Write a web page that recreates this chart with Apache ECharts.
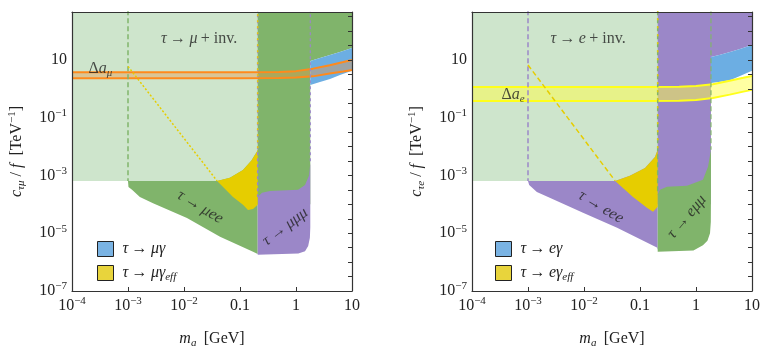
<!DOCTYPE html>
<html>
<head>
<meta charset="utf-8">
<script src="https://cdn.jsdelivr.net/npm/echarts@6/dist/echarts.min.js"></script>
<style>
html,body{margin:0;padding:0;background:#fff}
#chart{width:773px;height:349px}
</style>
</head>
<body>
<div id="chart"></div>
<script>
// 轴范围 (log10)
const xMinExp = -4, xMaxExp = 1
const yMinExp = -7, yMaxExp = 2.66
const yLabelExps = [-7, -5, -3, -1, 1]

// 左图 tau -> mu  (质量 GeV, 耦合 TeV^-1)
const muInv = [[1e-4, 1000], [1e-4, 6.5e-4], [0.039, 6.5e-4], [0.066, 8.3e-4], [0.113, 1.56e-3], [0.16, 3.3e-3], [0.2, 6.6e-3], [0.207, 8e-3], [0.207, 1000]]
const muEE = [[1e-3, 1000], [1e-3, 6.5e-4], [1.02e-3, 4e-4], [1.18e-3, 3.2e-4], [1.63e-3, 1.8e-4], [2.8e-3, 1.1e-4], [0.0113, 3.4e-5], [0.044, 7.5e-6], [0.171, 2.3e-6], [0.207, 1.9e-6], [0.207, 1e-4], [1.8, 1e-4], [1.8, 9.2], [2.68, 11.7], [4.05, 14.9], [6.1, 18.9], [10, 26], [10, 1000]]
const muMuMu = [[0.207, 1.8e-4], [0.247, 2.5e-4], [0.343, 2.9e-4], [1.09, 3.2e-4], [1.45, 4.7e-4], [1.71, 1.0e-3], [1.8, 2.7e-3], [1.8, 1.6e-5], [1.77, 7e-6], [1.65, 3.6e-6], [1.45, 2.4e-6], [1.1, 2e-6], [0.207, 1.8e-6]]
const muGamEff = [[0.039, 6.5e-4], [0.066, 8.3e-4], [0.113, 1.56e-3], [0.16, 3.3e-3], [0.2, 6.6e-3], [0.207, 8e-3], [0.207, 9.6e-5], [0.171, 6.9e-5], [0.139, 6.4e-5], [0.113, 9.6e-5], [0.075, 1.8e-4], [0.039, 6.5e-4]]
const muGamM = [1.8, 2.68, 4.05, 6.1, 10]
const muGamTop = [9.2, 11.7, 14.9, 18.9, 26]
const muGamBot = [1.36, 1.73, 2.2, 3.0, 4.2]
const bandM = [1e-4, 0.1, 0.5, 1, 2, 4, 7, 10]
const amuTop = [3.75, 3.75, 3.8, 4.1, 5.0, 6.6, 8.5, 10]
const amuBot = [2.33, 2.33, 2.36, 2.45, 2.7, 3.4, 4.0, 4.5]
const muDiag = [[1e-3, 6], [0.039, 6.5e-4]]

// 右图 tau -> e
const eInv = [[1e-4, 1000], [1e-4, 6.5e-4], [0.036, 6.5e-4], [0.066, 9.8e-4], [0.123, 1.8e-3], [0.185, 4.4e-3], [0.207, 7.8e-3], [0.207, 1000]]
const eEEE = [[1e-3, 1000], [1e-3, 6.5e-4], [1.05e-3, 4.7e-4], [1.44e-3, 2.7e-4], [2.5e-3, 1.67e-4], [9.6e-3, 5.1e-5], [0.039, 1.55e-5], [0.2, 3.2e-6], [0.207, 2.7e-6], [0.207, 1e-4], [1.85, 1e-4], [1.85, 12.7], [2.7, 15], [4.05, 19], [6.1, 24], [10, 33], [10, 1000]]
const eMuMu = [[0.207, 2.2e-4], [0.227, 3.2e-4], [0.303, 4.1e-4], [0.69, 4.4e-4], [1.33, 7.1e-4], [1.64, 2.0e-3], [1.85, 7.8e-3], [1.85, 1.8e-4], [1.84, 2.5e-5], [1.78, 1.0e-5], [1.6, 5.5e-6], [1.33, 3.8e-6], [0.9, 2.5e-6], [0.207, 2.3e-6]]
const eGamEff = [[0.036, 6.5e-4], [0.066, 9.8e-4], [0.123, 1.8e-3], [0.185, 4.4e-3], [0.207, 7.8e-3], [0.207, 8.2e-5], [0.171, 5.5e-5], [0.133, 7.6e-5], [0.075, 1.8e-4], [0.036, 6.5e-4]]
const eGamM = [1.85, 2.7, 4.05, 6.1, 10]
const eGamTop = [12.7, 15, 19, 24, 33]
const eGamBot = [1.6, 1.75, 2.0, 2.8, 4.2]
const aeTop = [1.16, 1.16, 1.18, 1.25, 1.45, 1.9, 2.4, 2.8]
const aeBot = [0.38, 0.38, 0.39, 0.41, 0.48, 0.63, 0.8, 0.92]
const eDiag = [[1e-3, 6.7], [0.036, 6.5e-4]]

// 文字标注 [质量, 耦合, 文本, 旋转]
const muNotes = [
  [0.0186, 53, '{i|τ} {r|→} {i|μ} {r|+ inv.}', 0],
  [0.0194, 8.1e-5, '{i|τ} {r|→} {i|μee}', -31],
  [0.64, 1.66e-5, '{i|τ} {r|→} {i|μμμ}', 37],
  [3.2e-4, 4.9, '{r|Δ}{i|a}{sub|μ}', 0]
]
const eNotes = [
  [0.0118, 53, '{i|τ} {r|→} {i|e} {r|+ inv.}', 0],
  [0.02, 8.1e-5, '{i|τ} {r|→} {i|eee}', -31],
  [0.69, 3.7e-5, '{i|τ} {r|→} {i|eμμ}', 50],
  [5.4e-4, 0.61, '{r|Δ}{i|a}{sub|e}', 0]
]

const F = 'Liberation Serif'
const TXT = '#222'
const LG = '#cee5cc', GR = '#80b46b', PU = '#9b87c8', YE = '#e6cd00', BL = '#6caee3'

const rich = {
  i: { fontStyle: 'italic', fontFamily: F, fontSize: 16, color: TXT, lineHeight: 20 },
  r: { fontFamily: F, fontSize: 16, color: TXT, lineHeight: 20 },
  sub: { fontStyle: 'italic', fontFamily: F, fontSize: 11, color: TXT, lineHeight: 11, verticalAlign: 'bottom' },
  sup: { fontFamily: F, fontSize: 11, color: TXT, lineHeight: 11, verticalAlign: 'top' }
}

const L = v => Math.log10(v)
const toLog = arr => arr.map(p => [L(p[0]), L(p[1])])
const band = (m, top, bot) => m.map((x, i) => [x, top[i]]).concat(m.map((x, i) => [x, bot[i]]).reverse())
const curve = (m, vals) => m.map((x, i) => [x, vals[i]])

function area(name, gi, data, color, z) {
  const d = toLog(data)
  return {
    type: 'custom', name: name, xAxisIndex: gi * 2, yAxisIndex: gi * 2,
    clip: true, silent: true, z: z,
    itemStyle: { color: color },
    data: [d[0]],
    renderItem: (params, api) => ({
      type: 'polygon',
      shape: { points: d.map(p => api.coord(p)) },
      style: { fill: color }
    })
  }
}

function line(gi, data, color, type, width, z) {
  return {
    type: 'line', xAxisIndex: gi * 2, yAxisIndex: gi * 2,
    data: toLog(data), symbol: 'none', silent: true, z: z,
    lineStyle: { color: color, type: type, width: width }
  }
}

function notes(gi, list) {
  return list.map(n => ({
    type: 'scatter', xAxisIndex: gi * 2, yAxisIndex: gi * 2, silent: true, z: 20,
    symbolSize: 1, itemStyle: { color: 'rgba(0,0,0,0)' },
    data: [[L(n[0]), L(n[1])]],
    label: { show: true, position: 'inside', rotate: n[3], formatter: n[2], rich: rich }
  }))
}

function xLabel(v) {
  const e = Math.round(v)
  if (Math.abs(v - e) > 1e-6) return ''
  if (e === -1) return '{r|0.1}'
  if (e === 0) return '{r|1}'
  if (e === 1) return '{r|10}'
  return '{r|10}{sup|−' + (-e) + '}'
}
function yLabel(v) {
  const e = Math.round(v)
  if (Math.abs(v - e) > 1e-6 || yLabelExps.indexOf(e) < 0) return ''
  if (e === 1) return '{r|10}'
  return '{r|10}{sup|−' + (-e) + '}'
}

const frame = { show: true, onZero: false, lineStyle: { color: '#333', width: 1.2 } }

function axes(gi, yName) {
  const xs = [
    {
      type: 'value', gridIndex: gi, min: xMinExp, max: xMaxExp, interval: 1, position: 'bottom', z: 10,
      axisLine: frame, axisTick: { inside: true, length: 4, lineStyle: { color: '#333' } },
      axisLabel: { formatter: xLabel, rich: rich, margin: 5 }, splitLine: { show: false },
      name: '{i|m}{sub|a} {r| [GeV]}', nameLocation: 'middle', nameGap: 38, nameTextStyle: { rich: rich }
    },
    {
      type: 'value', gridIndex: gi, min: xMinExp, max: xMaxExp, interval: 1, position: 'top', z: 10,
      axisLine: frame, axisTick: { show: false }, axisLabel: { show: false }, splitLine: { show: false }
    }
  ]
  const ys = [
    {
      type: 'value', gridIndex: gi, min: yMinExp, max: yMaxExp, interval: 1, position: 'left', z: 10,
      axisLine: frame, axisTick: { show: false },
      axisLabel: { formatter: yLabel, rich: rich, margin: 5 }, splitLine: { show: false },
      name: yName, nameLocation: 'middle', nameGap: 45, nameTextStyle: { rich: rich }
    },
    {
      type: 'value', gridIndex: gi, min: yMinExp, max: yMaxExp, interval: 0.5, position: 'right', z: 10,
      axisLine: frame, axisTick: { inside: true, length: 4, lineStyle: { color: '#333' } },
      axisLabel: { show: false }, splitLine: { show: false }
    }
  ]
  return { xs, ys }
}

const a0 = axes(0, '{i|c}{sub|τμ}{r| / }{i|f}{r|  [TeV}{sup|−1}{r|]}')
const a1 = axes(1, '{i|c}{sub|τe}{r| / }{i|f}{r|  [TeV}{sup|−1}{r|]}')

const legendCommon = {
  orient: 'vertical', itemWidth: 16, itemHeight: 15, itemGap: 8, icon: 'rect',
  selectedMode: false,
  itemStyle: { borderColor: '#222', borderWidth: 1 },
  textStyle: { rich: rich, padding: [0, 0, 0, 4] },
  formatter: name => name.replace(/^τ → (\S)γ(_eff)?$/, (s, l, eff) => '{i|τ} {r|→} {i|' + l + 'γ}' + (eff ? '{sub|eff}' : ''))
}

const series = [
  // 左图
  area('τ → μee', 0, muEE, GR, 1),
  area('τ → μμμ', 0, muMuMu, PU, 2),
  area('τ → μ inv', 0, muInv, LG, 3),
  area('τ → μγ_eff', 0, muGamEff, YE, 4),
  area('τ → μγ', 0, band(muGamM, muGamTop, muGamBot), BL, 5),
  area('amu', 0, band(bandM, amuTop, amuBot), 'rgba(235,150,70,0.4)', 6),
  line(0, curve(bandM, amuTop), '#ff8a1c', 'solid', 2, 7),
  line(0, curve(bandM, amuBot), '#ff8a1c', 'solid', 2, 7),
  line(0, [[1e-3, 1000], [1e-3, 6.5e-4]], GR, [5, 3], 1.5, 8),
  line(0, [[0.207, 1000], [0.207, 1.8e-4]], PU, [3, 3], 1.5, 8),
  line(0, [[0.207, 1000], [0.207, 8e-3]], YE, [2, 4], 1.5, 8),
  line(0, [[1.8, 1000], [1.8, 2.7e-3]], PU, [3, 3], 1.2, 8),
  line(0, muDiag, YE, [2, 2], 1.5, 8),
  // 右图
  area('τ → eee', 1, eEEE, PU, 1),
  area('τ → eμμ', 1, eMuMu, GR, 2),
  area('τ → e inv', 1, eInv, LG, 3),
  area('τ → eγ_eff', 1, eGamEff, YE, 4),
  area('τ → eγ', 1, band(eGamM, eGamTop, eGamBot), BL, 5),
  area('ae', 1, band(bandM, aeTop, aeBot), 'rgba(255,255,70,0.5)', 6),
  line(1, curve(bandM, aeTop), '#ffff1a', 'solid', 2, 7),
  line(1, curve(bandM, aeBot), '#ffff1a', 'solid', 2, 7),
  line(1, [[1e-3, 1000], [1e-3, 6.5e-4]], PU, [5, 3], 1.5, 8),
  line(1, [[0.207, 1000], [0.207, 2.2e-4]], GR, [5, 3], 1.5, 8),
  line(1, [[0.207, 1000], [0.207, 7.8e-3]], YE, [2, 6], 1.5, 8),
  line(1, [[1.85, 1000], [1.85, 7.8e-3]], GR, [5, 3], 1.2, 8),
  line(1, eDiag, YE, [5, 3], 1.5, 8)
].concat(notes(0, muNotes), notes(1, eNotes))

const mycharts = echarts.init(document.getElementById('chart'), null, { renderer: 'canvas' })
const option = {
  animation: false,
  backgroundColor: '#fff',
  grid: [
    { left: 72, top: 12, width: 280, height: 279, outerBoundsMode: 'none' },
    { left: 472, top: 12, width: 280, height: 279, outerBoundsMode: 'none' }
  ],
  xAxis: a0.xs.concat(a1.xs),
  yAxis: a0.ys.concat(a1.ys),
  legend: [
    Object.assign({}, legendCommon, {
      left: 92, top: 236,
      data: [{ name: 'τ → μγ', itemStyle: { color: '#7ab3e3' } }, { name: 'τ → μγ_eff', itemStyle: { color: '#e8d43c' } }]
    }),
    Object.assign({}, legendCommon, {
      left: 490, top: 236,
      data: [{ name: 'τ → eγ', itemStyle: { color: '#7ab3e3' } }, { name: 'τ → eγ_eff', itemStyle: { color: '#e8d43c' } }]
    })
  ],
  series: series
}
mycharts.setOption(option)
</script>
</body>
</html>
